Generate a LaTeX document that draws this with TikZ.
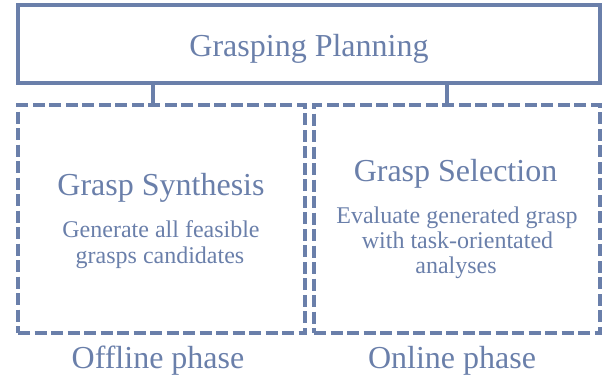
\documentclass[tikz,border=0pt]{standalone}
\usepackage{fontspec}
\setmainfont{Liberation Serif}
\definecolor{grisazul}{RGB}{106,127,170}
\tikzset{
  caja/.style={draw=grisazul, line width=3.5pt, inner sep=0pt, minimum width=582pt, minimum height=78pt},
  fase/.style={draw=grisazul, line width=3.5pt, dash pattern=on 12pt off 4.5pt, inner sep=0pt, minimum height=228pt},
  enlace/.style={draw=grisazul, line width=3.5pt},
  titulo/.style={text=grisazul, font=\fontsize{32}{36}\selectfont, anchor=base, inner sep=0pt},
  detalle/.style={text=grisazul, font=\fontsize{24}{26}\selectfont, anchor=base, inner sep=0pt}
}
\begin{document}
\begin{tikzpicture}[x=1pt,y=-1pt]
	\useasboundingbox (0,0) rectangle (610,384);
	
	% marco superior
	\node[caja] (plan) at (309,44) {};
	\node[titulo] (plantxt) at (309,56) {Grasping Planning};
	
	% cajas de fase
	\node[fase, minimum width=287pt] (offbox) at (161.5,219) {};
	\node[fase, minimum width=286pt] (onbox) at (457,219) {};
	
	% conexiones
	\draw[enlace] ([xshift=-8.5pt]offbox.north) -- ([xshift=-8.5pt]offbox.north |- plan.south);
	\draw[enlace] ([xshift=-10pt]onbox.north) -- ([xshift=-10pt]onbox.north |- plan.south);
	
	% sintesis
	\node[titulo] (sintesis) at (161,195) {Grasp Synthesis};
	\node[detalle] (gen1) at (161,237) {Generate all feasible};
	\node[detalle] (gen2) at (160,263) {grasps candidates};
	\node[titulo] (offline) at (158,368) {Offline phase};
	
	% seleccion
	\node[titulo] (seleccion) at (455.5,181) {Grasp Selection};
	\node[detalle] (eval1) at (457,223) {Evaluate generated grasp};
	\node[detalle] (eval2) at (457.5,248) {with task-orientated};
	\node[detalle] (eval3) at (456,273) {analyses};
	\node[titulo] (online) at (452,368) {Online phase};
\end{tikzpicture}
\end{document}
